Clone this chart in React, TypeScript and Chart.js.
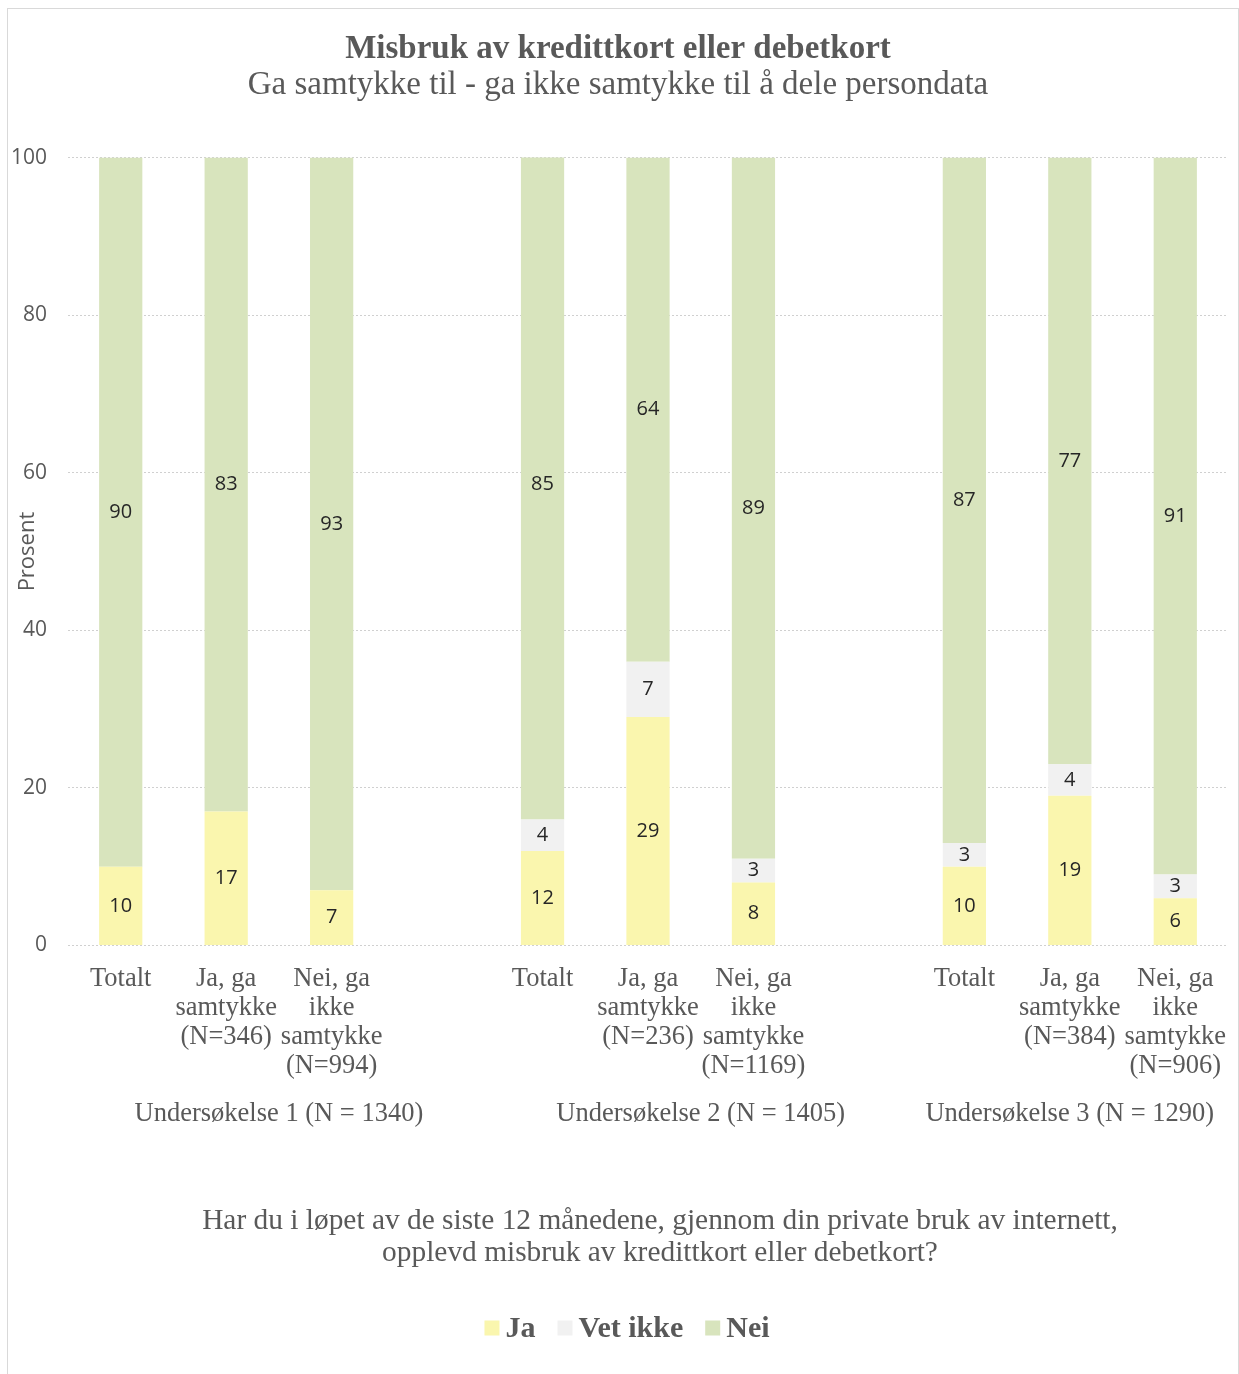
import React, { useEffect, useRef } from "react";
import { Chart, registerables } from "chart.js";

Chart.register(...registerables);

const categories: (string | string[])[] = [
  ["Totalt"],
  ["Ja, ga", "samtykke", "(N=346)"],
  ["Nei, ga", "ikke", "samtykke", "(N=994)"],
  "",
  ["Totalt"],
  ["Ja, ga", "samtykke", "(N=236)"],
  ["Nei, ga", "ikke", "samtykke", "(N=1169)"],
  "",
  ["Totalt"],
  ["Ja, ga", "samtykke", "(N=384)"],
  ["Nei, ga", "ikke", "samtykke", "(N=906)"],
];

const jaValues = [10, 17, 7, null, 12, 29, 8, null, 10, 19, 6];
const vetIkkeValues = [0, 0, 0, null, 4, 7, 3, null, 3, 4, 3];
const neiValues = [90, 83, 93, null, 85, 64, 89, null, 87, 77, 91];

const seriesNames = ["Ja", "Vet ikke", "Nei"];

const groupLabels = [
  "Undersøkelse 1 (N = 1340)",
  "Undersøkelse 2 (N = 1405)",
  "Undersøkelse 3 (N = 1290)",
];
// first and last category index of each group
const groupSpans = [
  [0, 3],
  [4, 7],
  [8, 10],
];

const yTicks = [0, 20, 40, 60, 80, 100];

const titleText = "Misbruk av kredittkort eller debetkort";
const subtitleText = "Ga samtykke til - ga ikke samtykke til å dele persondata";
const questionLines = [
  "Har du i løpet av de siste 12 månedene, gjennom din private bruk av internett,",
  "opplevd misbruk av kredittkort eller debetkort?",
];

const GRAY = "#595959";
const SERIF = "'Liberation Serif', 'Times New Roman', serif";
const SANS = "'Open Sans', 'Noto Sans', sans-serif";

const labelPlugin = {
  id: "barValueLabels",
  afterDatasetsDraw(chart: any) {
    const ctx = chart.ctx;
    ctx.save();
    ctx.font = `20px ${SANS}`;
    ctx.fillStyle = "#262626";
    ctx.textAlign = "center";
    ctx.textBaseline = "middle";
    chart.data.datasets.forEach((ds: any, di: number) => {
      const meta = chart.getDatasetMeta(di);
      meta.data.forEach((el: any, i: number) => {
        const v = ds.data[i];
        if (v == null || v === 0) return;
        const p = el.getProps(["x", "y", "base"], true);
        ctx.fillText(String(v), p.x, (p.y + p.base) / 2);
      });
    });
    ctx.restore();
  },
};

const extraTextPlugin = {
  id: "extraText",
  afterDraw(chart: any) {
    const ctx = chart.ctx;
    const xs = chart.scales.x;
    const area = chart.chartArea;
    ctx.save();
    ctx.fillStyle = GRAY;
    ctx.textAlign = "center";
    ctx.textBaseline = "middle";
    ctx.font = `26.5px ${SERIF}`;
    groupSpans.forEach((span, gi) => {
      const x0 = xs.getPixelForValue(span[0] - 0.5);
      const x1 = xs.getPixelForValue(span[1] + 0.5);
      ctx.fillText(groupLabels[gi], (x0 + x1) / 2, area.bottom + 169);
    });
    ctx.font = `29.4px ${SERIF}`;
    const cx = (area.left + area.right) / 2 + 12;
    questionLines.forEach((line, li) => {
      ctx.fillText(line, cx, area.bottom + 276 + li * 32);
    });

    // legend
    ctx.font = `bold 30px ${SERIF}`;
    ctx.textAlign = "left";
    const box = 15;
    const gapText = 6;
    const gapItem = 22;
    const widths = chart.data.datasets.map((ds: any) => ctx.measureText(ds.label).width);
    const total =
      widths.reduce((a: number, w: number) => a + box + gapText + w, 0) +
      gapItem * (widths.length - 1);
    let x = chart.width / 2 + 4 - total / 2;
    const y = chart.height - 46;
    chart.data.datasets.forEach((ds: any, i: number) => {
      ctx.fillStyle = ds.backgroundColor;
      ctx.fillRect(x, y - box / 2, box, box);
      ctx.fillStyle = GRAY;
      ctx.fillText(ds.label, x + box + gapText, y + 1);
      x += box + gapText + widths[i] + gapItem;
    });
    ctx.restore();
  },
};

export default function App() {
  const canvasRef = useRef<HTMLCanvasElement | null>(null);

  useEffect(() => {
    if (!canvasRef.current) return;
    const chart = new Chart(canvasRef.current, {
      type: "bar",
      data: {
        labels: categories,
        datasets: [
          { label: seriesNames[0], data: jaValues, backgroundColor: "#FAF6AE", borderWidth: 0 },
          { label: seriesNames[1], data: vetIkkeValues, backgroundColor: "#F1F1F1", borderWidth: 0 },
          { label: seriesNames[2], data: neiValues, backgroundColor: "#D8E4BD", borderWidth: 0 },
        ],
      },
      options: {
        responsive: false,
        animation: false,
        layout: { padding: { top: 0, right: 10, bottom: 80, left: 0 } },
        datasets: { bar: { barPercentage: 0.41, categoryPercentage: 1 } },
        plugins: {
          title: {
            display: true,
            text: titleText,
            color: GRAY,
            font: { family: SERIF, size: 33, weight: "bold", lineHeight: 1.1 },
            padding: { top: 22, bottom: 0 },
          },
          subtitle: {
            display: true,
            text: subtitleText,
            color: GRAY,
            font: { family: SERIF, size: 33, weight: "normal", lineHeight: 1.1 },
            padding: { top: 0, bottom: 54 },
          },
          legend: { display: false },
          tooltip: { enabled: false },
        },
        scales: {
          x: {
            stacked: true,
            grid: { display: false, drawTicks: false },
            border: { display: false },
            ticks: {
              color: GRAY,
              font: { family: SERIF, size: 26.5, lineHeight: "29px" },
              autoSkip: false,
              maxRotation: 0,
              minRotation: 0,
              padding: 19,
            },
            afterFit(scale: any) {
              scale.height = 348.5;
              scale.paddingLeft = 0;
              scale.paddingRight = 0;
            },
          },
          y: {
            stacked: true,
            min: 0,
            max: 100,
            afterBuildTicks(scale: any) {
              scale.ticks = yTicks.map((v) => ({ value: v }));
            },
            grid: { color: "#D0D0D0", drawTicks: false, lineWidth: 1 },
            border: { display: false, dash: [2, 2] },
            ticks: {
              color: GRAY,
              font: { family: SANS, size: 21 },
              padding: 21,
            },
            title: {
              display: true,
              text: "Prosent",
              color: GRAY,
              font: { family: SANS, size: 22, lineHeight: 1.2 },
              padding: { top: 7, bottom: 0 },
            },
            afterFit(scale: any) {
              scale.width = 60;
            },
          },
        },
      },
      plugins: [labelPlugin, extraTextPlugin],
    } as any);
    return () => chart.destroy();
  }, []);

  return (
    <div
      style={{
        position: "absolute",
        left: 7,
        top: 8,
        width: 1232,
        height: 1366,
        boxSizing: "border-box",
        border: "1px solid #D9D9D9",
        borderBottom: "none",
        background: "#fff",
      }}
    >
      <canvas ref={canvasRef} width={1230} height={1365} style={{ display: "block" }} />
    </div>
  );
}
